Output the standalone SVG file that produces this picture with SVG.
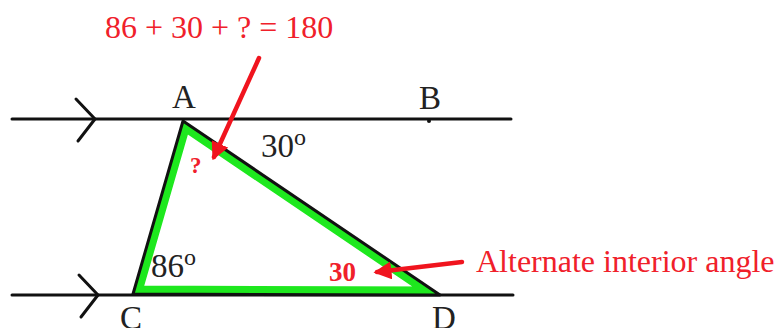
<svg xmlns="http://www.w3.org/2000/svg" width="778" height="328" viewBox="0 0 778 328">
<style>
.ln{stroke:#111;stroke-width:3;fill:none;stroke-linecap:round;stroke-linejoin:round}
.lbl{font-family:"Liberation Serif",serif;font-size:33px;fill:#222}
.red{font-family:"Liberation Serif",serif;fill:#f0202a}
.redl{stroke:#f0141e;stroke-width:4.5;fill:none;stroke-linecap:round}
</style>
<defs>
<clipPath id="tri"><polygon points="183,121 133,294 440,295"/></clipPath>
<marker id="ah" viewBox="0 0 10 10" refX="8" refY="5" markerWidth="4" markerHeight="4" orient="auto"><path d="M0,0 L10,5 L0,10 z" fill="#f0141e"/></marker>
</defs>
<rect width="778" height="328" fill="#fff"/>
<g id="lines">
<line class="ln" x1="12" y1="119" x2="511" y2="119"/>
<polyline class="ln" points="76,99 95,119 78,141"/>
<line class="ln" x1="12" y1="295" x2="513" y2="295"/>
<polyline class="ln" points="79,275 98,295 81,317"/>
<circle cx="429" cy="121" r="2" fill="#111"/>
</g>
<g id="triangle">
<polygon points="183,121 133,294 440,295" fill="none" stroke="#1ee81e" stroke-width="17" clip-path="url(#tri)"/>
<polygon class="ln" points="183,121 133,294 440,295"/>
</g>
<g id="labels">
<text class="lbl" x="172" y="108">A</text>
<text class="lbl" x="419" y="109">B</text>
<text class="lbl" x="120" y="329">C</text>
<text class="lbl" x="432" y="329">D</text>
<text class="lbl" x="261" y="157" font-size="34">30<tspan font-size="24" dy="-12">o</tspan></text>
<text class="lbl" x="151" y="277" font-size="33">86<tspan font-size="24" dy="-12">o</tspan></text>
</g>
<g id="annotations">
<text class="red" x="105" y="38" font-size="32">86 + 30 + ? = 180</text>
<text class="red" x="190" y="173" font-size="23" font-weight="bold">?</text>
<text class="red" x="329" y="281" font-size="27" font-weight="bold">30</text>
<text class="red" x="476" y="272" font-size="32">Alternate interior angle</text>
</g>
<g id="connectors">
<line class="redl" x1="259" y1="58" x2="214" y2="157" marker-end="url(#ah)"/>
<line class="redl" x1="462" y1="262" x2="377" y2="272" marker-end="url(#ah)"/>
</g>
</svg>
